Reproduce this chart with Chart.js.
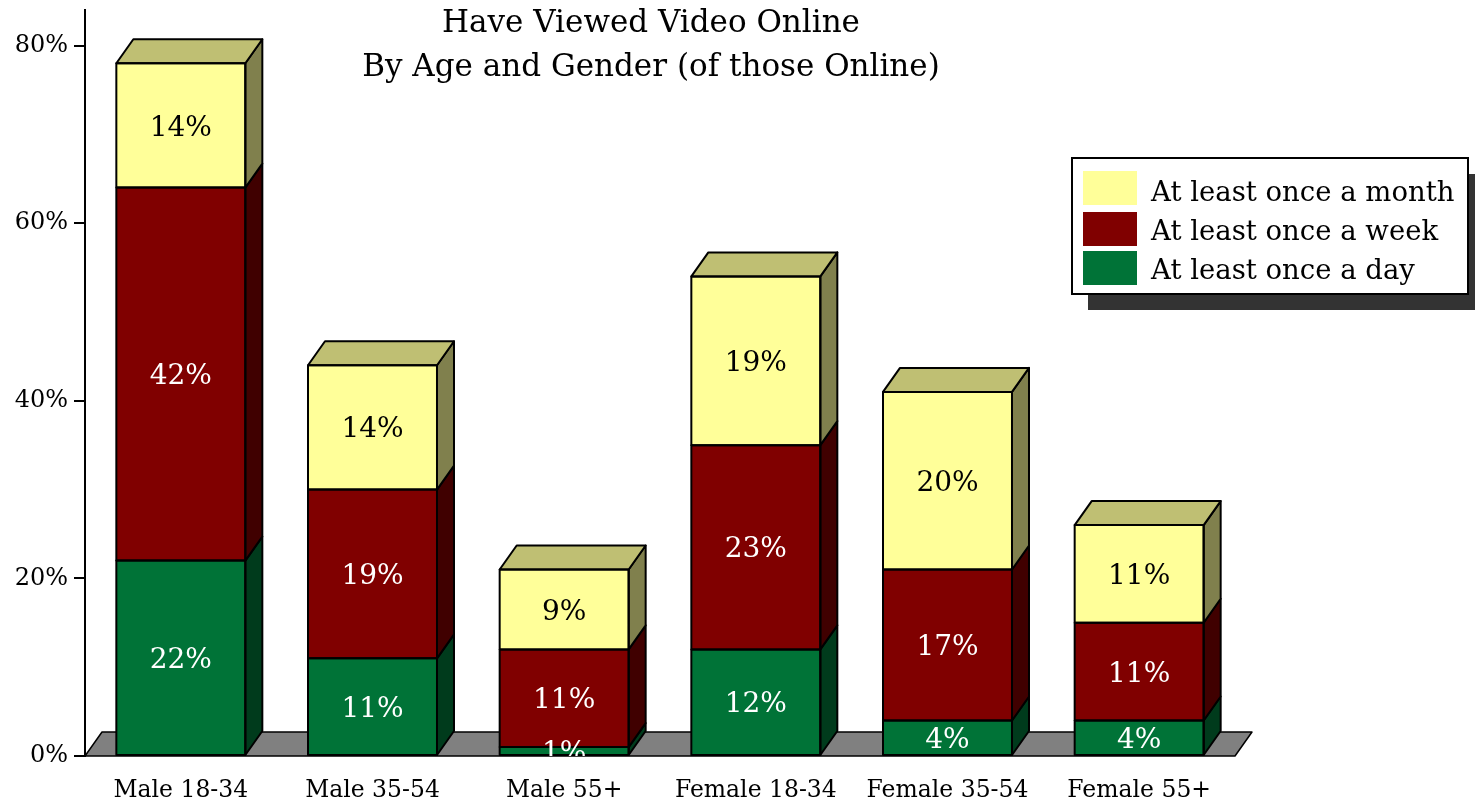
<!DOCTYPE html>
<html>
<head>
<meta charset="utf-8">
<script src="https://cdn.jsdelivr.net/npm/chart.js@4/dist/chart.umd.min.js"></script>
<style>
  html, body { margin: 0; padding: 0; background: #ffffff; }
  canvas { display: block; }
</style>
</head>
<body>
<canvas id="chart" width="1475" height="802"></canvas>
<script>
// Categories and stacked series (percent of online users)
const categories = ['Male 18-34', 'Male 35-54', 'Male 55+', 'Female 18-34', 'Female 35-54', 'Female 55+'];
const dailyValues   = [22, 11, 1, 12, 4, 4];
const weeklyValues  = [42, 19, 11, 23, 17, 11];
const monthlyValues = [14, 14, 9, 19, 20, 11];
const seriesNames = ['At least once a day', 'At least once a week', 'At least once a month'];
const titleLines = ['Have Viewed Video Online', 'By Age and Gender (of those Online)'];

const FONT = '"DejaVu Serif", "Liberation Serif", serif';

// Face colours for each series: front, right side, top, value label
const palette = [
  { front: '#007337', side: '#003B1C', top: '#3F8F5F', label: '#ffffff' },
  { front: '#800000', side: '#400000', top: '#A04040', label: '#ffffff' },
  { front: '#FFFF99', side: '#80804D', top: '#BFBF73', label: '#000000' }
];

const DEPTH_X = 17;
const DEPTH_Y = 24;

function polygon(ctx, pts, fill) {
  ctx.beginPath();
  ctx.moveTo(pts[0][0], pts[0][1]);
  for (let i = 1; i < pts.length; i++) ctx.lineTo(pts[i][0], pts[i][1]);
  ctx.closePath();
  ctx.fillStyle = fill;
  ctx.fill();
  ctx.stroke();
}

// Draws the floor, the 3D side/top faces, value labels, title and legend
const bar3d = {
  id: 'bar3d',
  beforeDatasetsDraw(chart) {
    const { ctx, chartArea: a } = chart;
    ctx.save();
    ctx.lineWidth = 1.5;
    ctx.strokeStyle = '#000';
    ctx.lineJoin = 'round';
    polygon(ctx, [
      [a.left, a.bottom], [a.right, a.bottom],
      [a.right + DEPTH_X, a.bottom - DEPTH_Y], [a.left + DEPTH_X, a.bottom - DEPTH_Y]
    ], '#808080');
    ctx.restore();
  },
  afterDatasetsDraw(chart) {
    const { ctx, chartArea: a } = chart;
    const n = chart.data.datasets.length;
    ctx.save();
    ctx.lineWidth = 2;
    ctx.strokeStyle = '#000';
    ctx.lineJoin = 'round';
    for (let i = 0; i < n; i++) {
      const meta = chart.getDatasetMeta(i);
      const col = palette[i];
      meta.data.forEach((el) => {
        const p = el.getProps(['x', 'y', 'base', 'width'], true);
        const left = p.x - p.width / 2, right = p.x + p.width / 2;
        const top = Math.min(p.y, p.base), bot = Math.max(p.y, p.base);
        polygon(ctx, [
          [right, top], [right + DEPTH_X, top - DEPTH_Y],
          [right + DEPTH_X, bot - DEPTH_Y], [right, bot]
        ], col.side);
        if (i === n - 1) {
          polygon(ctx, [
            [left, top], [left + DEPTH_X, top - DEPTH_Y],
            [right + DEPTH_X, top - DEPTH_Y], [right, top]
          ], col.top);
        }
        ctx.strokeRect(left, top, p.width, bot - top);
      });
    }
    // value labels, kept inside the plot area
    ctx.beginPath();
    ctx.rect(a.left, a.top, a.right - a.left + 40, a.bottom - a.top);
    ctx.clip();
    const size = 28;
    ctx.font = size + 'px ' + FONT;
    ctx.textAlign = 'center';
    ctx.textBaseline = 'alphabetic';
    for (let i = 0; i < n; i++) {
      const meta = chart.getDatasetMeta(i);
      const values = chart.data.datasets[i].data;
      ctx.fillStyle = palette[i].label;
      meta.data.forEach((el, j) => {
        const p = el.getProps(['x', 'y', 'base'], true);
        const mid = (p.y + p.base) / 2;
        ctx.fillText(values[j] + '%', p.x, mid + size * 0.36);
      });
    }
    ctx.restore();
  },
  afterDraw(chart) {
    const { ctx } = chart;
    ctx.save();
    // title
    ctx.fillStyle = '#000';
    ctx.textAlign = 'center';
    ctx.textBaseline = 'alphabetic';
    ctx.font = '31px ' + FONT;
    ctx.fillText(titleLines[0], 651, 32);
    ctx.fillText(titleLines[1], 651, 76);
    // legend with drop shadow
    const bx = 1072, by = 158, bw = 396, bh = 136;
    ctx.fillStyle = '#333333';
    ctx.fillRect(bx + 16, by + 16, bw, bh);
    ctx.fillStyle = '#ffffff';
    ctx.fillRect(bx, by, bw, bh);
    ctx.lineWidth = 2;
    ctx.strokeStyle = '#000';
    ctx.strokeRect(bx, by, bw, bh);
    const rows = [2, 1, 0];
    const swatchY = [171, 212, 251];
    const textY = [201, 240, 279];
    ctx.textAlign = 'left';
    ctx.font = '27.5px ' + FONT;
    rows.forEach((ds, k) => {
      ctx.fillStyle = palette[ds].front;
      ctx.fillRect(1083, swatchY[k], 54, 34);
      ctx.fillStyle = '#000';
      ctx.fillText(chart.data.datasets[ds].label, 1151, textY[k]);
    });
    ctx.restore();
  }
};

new Chart(document.getElementById('chart'), {
  type: 'bar',
  data: {
    labels: categories,
    datasets: [
      { label: seriesNames[0], data: dailyValues,   backgroundColor: palette[0].front },
      { label: seriesNames[1], data: weeklyValues,  backgroundColor: palette[1].front },
      { label: seriesNames[2], data: monthlyValues, backgroundColor: palette[2].front }
    ]
  },
  options: {
    responsive: false,
    animation: false,
    devicePixelRatio: 1,
    layout: { padding: { top: 10, right: 240, left: 0, bottom: 0 } },
    datasets: { bar: { barPercentage: 0.673, categoryPercentage: 1, borderWidth: 0 } },
    plugins: {
      legend: { display: false },
      title: { display: false },
      tooltip: { enabled: false }
    },
    scales: {
      x: {
        stacked: true,
        grid: { display: false },
        border: { display: false },
        ticks: { color: '#000', font: { family: FONT, size: 23.5 }, padding: 13, maxRotation: 0 },
        afterFit(s) { s.height = 46; s.paddingLeft = 0; s.paddingRight = 0; }
      },
      y: {
        stacked: true,
        min: 0,
        max: 84,
        ticks: {
          stepSize: 20,
          includeBounds: false,
          color: '#000',
          font: { family: FONT, size: 24 },
          padding: 6,
          callback: (v) => v + '%'
        },
        grid: { drawOnChartArea: false, color: '#000', tickLength: 11, lineWidth: 2 },
        border: { color: '#000', width: 2 },
        afterFit(s) { s.width = 85; s.paddingTop = 0; s.paddingBottom = 0; }
      }
    }
  },
  plugins: [bar3d]
});
</script>
</body>
</html>
